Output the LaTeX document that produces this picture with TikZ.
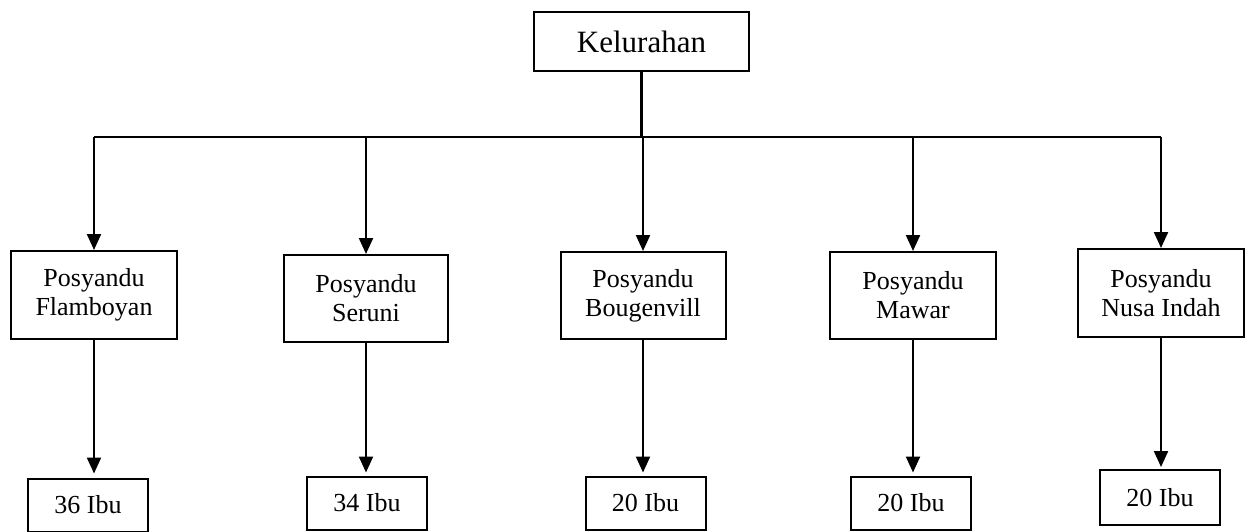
\documentclass[tikz,border=0pt]{standalone}
\usepackage{fontspec}
\setmainfont{Liberation Serif}
\usetikzlibrary{arrows.meta}
\begin{document}
\begin{tikzpicture}[x=1pt,y=-1pt,
  box/.style={draw,line width=2pt,inner sep=0pt,align=center,font=\fontsize{26}{29}\selectfont},
  ibox/.style={box,minimum width=120pt,minimum height=53pt},
  pbox/.style={box,minimum width=166pt,minimum height=88pt},
  arr/.style={line width=2.2pt,-{Triangle[length=16pt,width=14pt]}},
  ln/.style={line width=2.2pt}]
\useasboundingbox (0,0) rectangle (1246,532);
\node[box,minimum width=215pt,minimum height=59pt,font=\fontsize{31}{34}\selectfont] (kel) at (641.5,41.5) {Kelurahan};
\node[pbox] (p1) at (94,295) {Posyandu\\Flamboyan};
\node[pbox,minimum width=164pt,minimum height=87pt] (p2) at (366,298.5) {Posyandu\\Seruni};
\node[pbox,minimum width=165pt,minimum height=87pt] (p3) at (643,295.5) {Posyandu\\Bougenvill};
\node[pbox,minimum height=87pt] (p4) at (913,295.5) {Posyandu\\Mawar};
\node[pbox] (p5) at (1161,293) {Posyandu\\Nusa Indah};
\node[ibox] (i1) at (88,505) {36 Ibu};
\node[ibox] (i2) at (367,503) {34 Ibu};
\node[ibox] (i3) at (645.5,503) {20 Ibu};
\node[ibox] (i4) at (911,503) {20 Ibu};
\node[ibox,minimum height=55pt] (i5) at (1160,497.5) {20 Ibu};
\coordinate (bus) at (0,137);
\draw[ln] (kel.south) -- (kel.south |- bus);
\draw[ln] (p1.north |- bus) -- (p5.north |- bus);
\foreach \p in {p1,p2,p3,p4,p5}
  \draw[arr] (\p.north |- bus) -- (\p.north);
\draw[arr,shorten >=4pt] (p1.south) -- (p1.south |- i1.north);
\draw[arr,shorten >=3pt] (p2.south) -- (p2.south |- i2.north);
\draw[arr,shorten >=3pt] (p3.south) -- (p3.south |- i3.north);
\draw[arr,shorten >=3pt] (p4.south) -- (p4.south |- i4.north);
\draw[arr,shorten >=2pt] (p5.south) -- (p5.south |- i5.north);
\end{tikzpicture}
\end{document}
